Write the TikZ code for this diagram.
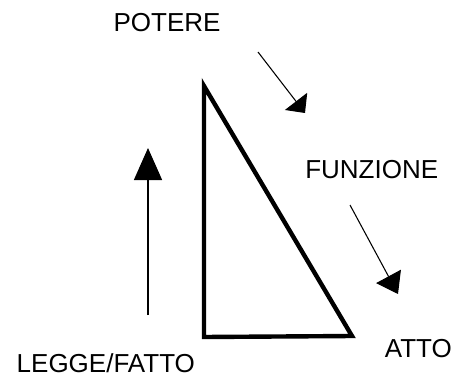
\documentclass[tikz,border=0pt]{standalone}
\usepackage{fontspec}
\setmainfont{Liberation Sans}
\usetikzlibrary{arrows.meta}
\begin{document}
\begin{tikzpicture}[x=0.75pt,y=-0.75pt,
  lbl/.style={font=\fontsize{19.5pt}{20pt}\selectfont, inner sep=0pt, anchor=base},
  tri/.style={line width=3.3pt, line join=miter},
  thinline/.style={line width=0.8pt}
]
\useasboundingbox (0,0) rectangle (456,378);
% triangle
\coordinate (tA) at (204,86);
\coordinate (tB) at (204,337);
\coordinate (tC) at (352,336);
\draw[tri] (tA) -- (tB) -- (tC) -- cycle;
% labels
\node[lbl] (potere) at (167,31.7) {POTERE};
\node[lbl] (funzione) at (371.7,178.3) {FUNZIONE};
\node[lbl] (atto) at (418.3,357.3) {ATTO};
\node[lbl] (legge) at (105.8,372.5) {LEGGE/FATTO};
% arrows
\coordinate (uS) at (148,315);
\coordinate (uE) at (148,148);
\draw[line width=1.1pt, -{Triangle[length=24pt,width=21pt]}] (uS) -- (uE);
\coordinate (a1s) at (258,52);
\coordinate (a1e) at (305,113);
\draw[thinline, -{Triangle[length=11pt,width=21pt]}] (a1s) -- (a1e);
\coordinate (a2s) at (350,205);
\coordinate (a2e) at (398,294);
\draw[thinline, -{Triangle[length=15pt,width=21pt]}] (a2s) -- (a2e);
\end{tikzpicture}
\end{document}
